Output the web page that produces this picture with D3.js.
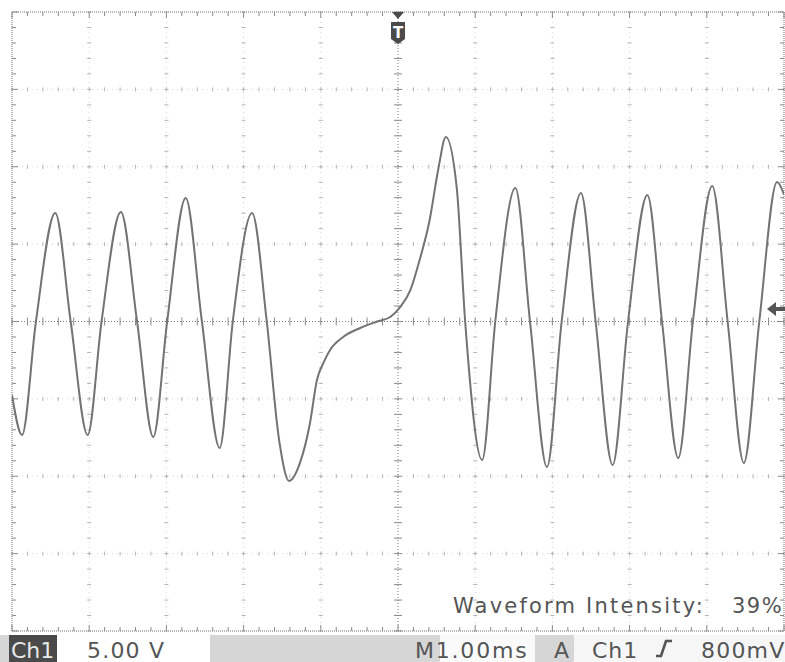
<!DOCTYPE html>
<html>
<head>
<meta charset="utf-8">
<script src="https://cdn.jsdelivr.net/npm/d3@7"></script>
<style>
  html, body { margin: 0; padding: 0; background: #fff; }
  svg { display: block; }
  text { font-family: "DejaVu Sans", "Liberation Sans", sans-serif; }
</style>
</head>
<body>
<svg id="scope"></svg>
<script>
const W = 785, H = 662;
const plot = { left: 12, right: 784, top: 12, bottom: 631 };

// 1.00 ms/div, 10 divisions, trigger at centre
const timeDomain = [-5, 5];
const timePerDiv = 1;
// 5.00 V/div, 8 divisions
const voltDomain = [-20, 20];
const voltPerDiv = 5;
const triggerLevel = 0.8; // 800mV

// trace (ms, V)
const traceTime = [-5.00, -4.87, -4.69, -4.44, -4.24, -4.02, -3.84, -3.59, -3.38, -3.17,
  -2.99, -2.75, -2.54, -2.31, -2.14, -1.89, -1.70, -1.54, -1.41, -1.27,
  -1.14, -1.05, -0.96, -0.88, -0.71, -0.49, -0.27, -0.10, 0.03, 0.16,
  0.28, 0.41, 0.52, 0.62, 0.76, 0.87, 1.09, 1.26, 1.52, 1.71,
  1.93, 2.12, 2.37, 2.56, 2.78, 2.98, 3.23, 3.42, 3.63, 3.82,
  4.07, 4.27, 4.48, 4.68, 4.91, 5.00];
const traceVolt = [-4.75, -7.33, 0, 7.01, 0, -7.33, 0, 7.07, 0, -7.46,
  0, 7.98, 0, -8.17, 0, 7.01, 0, -7.66, -10.30, -9.14,
  -6.56, -3.78, -2.61, -1.84, -1.00, -0.42, 0, 0.29, 0.94, 2.03,
  3.97, 6.56, 9.79, 11.92, 8.69, 0, -8.95, 0, 8.62, 0,
  -9.40, 0, 8.30, 0, -9.27, 0, 8.17, 0, -8.82, 0,
  8.75, 0, -9.14, 0, 9.01, 8.20];

const chLabel = "Ch1";
const scaleLabel = "5.00 V";
const timebaseLabel = "M1.00ms";
const trigModeLabel = "A";
const trigSourceLabel = "Ch1";
const trigLevelLabel = "800mV";
const intensityLabel = "Waveform Intensity:";
const intensityValue = "39%";

const svg = d3.select("#scope").attr("width", W).attr("height", H);

const x = d3.scaleLinear().domain(timeDomain).range([plot.left, plot.right]);
const y = d3.scaleLinear().domain(voltDomain).range([plot.bottom, plot.top]);

const xDivs = d3.range(0, 11).map((i) => timeDomain[0] + i * timePerDiv);
const yDivs = d3.range(0, 9).map((i) => voltDomain[0] + i * voltPerDiv);
const xMinor = d3.range(0, 51).map((i) => timeDomain[0] + i * timePerDiv / 5);
const yMinor = d3.range(0, 41).map((i) => voltDomain[0] + i * voltPerDiv / 5);

// graticule
const grid = svg.append("g").attr("id", "grid");

const innerX = xDivs.filter((d) => d !== 0 && d !== timeDomain[0] && d !== timeDomain[1]);
const innerY = yDivs.filter((d) => d !== 0 && d !== voltDomain[0] && d !== voltDomain[1]);

grid.selectAll(".vgrid").data(innerX).join("line")
  .attr("x1", (d) => x(d)).attr("x2", (d) => x(d))
  .attr("y1", plot.top).attr("y2", plot.bottom)
  .attr("stroke", "#d6d6d6").attr("stroke-dasharray", "1,4");
grid.selectAll(".hgrid").data(innerY).join("line")
  .attr("y1", (d) => y(d)).attr("y2", (d) => y(d))
  .attr("x1", plot.left).attr("x2", plot.right)
  .attr("stroke", "#d6d6d6").attr("stroke-dasharray", "1,4");

// small crosses on grid lines at every fifth of a division
innerX.forEach((t) => {
  grid.append("g").selectAll("line").data(yMinor).join("line")
    .attr("x1", x(t) - 2).attr("x2", x(t) + 2)
    .attr("y1", (d) => y(d)).attr("y2", (d) => y(d))
    .attr("stroke", "#b4b4b4");
});
innerY.forEach((v) => {
  grid.append("g").selectAll("line").data(xMinor).join("line")
    .attr("y1", y(v) - 2).attr("y2", y(v) + 2)
    .attr("x1", (d) => x(d)).attr("x2", (d) => x(d))
    .attr("stroke", "#b4b4b4");
});

// centre axes
grid.append("line")
  .attr("x1", x(0)).attr("x2", x(0)).attr("y1", plot.top).attr("y2", plot.bottom)
  .attr("stroke", "#7a7a7a").attr("stroke-dasharray", "1,2");
grid.append("line")
  .attr("y1", y(0)).attr("y2", y(0)).attr("x1", plot.left).attr("x2", plot.right)
  .attr("stroke", "#7a7a7a").attr("stroke-dasharray", "1,2");
grid.append("g").selectAll("line").data(yMinor).join("line")
  .attr("x1", x(0) - 4).attr("x2", x(0) + 4)
  .attr("y1", (d) => y(d)).attr("y2", (d) => y(d))
  .attr("stroke", "#8a8a8a");
grid.append("g").selectAll("line").data(xMinor).join("line")
  .attr("y1", y(0) - 4).attr("y2", y(0) + 4)
  .attr("x1", (d) => x(d)).attr("x2", (d) => x(d))
  .attr("stroke", "#8a8a8a");

// border rulers
const border = svg.append("g").attr("id", "border");
[plot.top, plot.bottom].forEach((yy, k) => {
  border.append("line").attr("x1", plot.left).attr("x2", plot.right)
    .attr("y1", yy).attr("y2", yy)
    .attr("stroke", "#707070").attr("stroke-dasharray", "1,1");
  const dir = k === 0 ? 1 : -1;
  border.append("g").selectAll("line").data(xMinor).join("line")
    .attr("x1", (d) => x(d)).attr("x2", (d) => x(d))
    .attr("y1", yy).attr("y2", (d) => yy + dir * (xDivs.includes(d) ? 6 : 4))
    .attr("stroke", "#8a8a8a");
});
[plot.left, plot.right].forEach((xx, k) => {
  border.append("line").attr("y1", plot.top).attr("y2", plot.bottom)
    .attr("x1", xx).attr("x2", xx)
    .attr("stroke", "#707070").attr("stroke-dasharray", "1,1");
  const dir = k === 0 ? 1 : -1;
  border.append("g").selectAll("line").data(yMinor).join("line")
    .attr("y1", (d) => y(d)).attr("y2", (d) => y(d))
    .attr("x1", xx).attr("x2", (d) => xx + dir * (yDivs.includes(d) ? 6 : 4))
    .attr("stroke", "#8a8a8a");
});

// trace
svg.append("clipPath").attr("id", "clip")
  .append("rect").attr("x", plot.left).attr("y", plot.top)
  .attr("width", plot.right - plot.left).attr("height", plot.bottom - plot.top);

const trace = traceTime.map((t, i) => ({ t, v: traceVolt[i] }));
const line = d3.line()
  .x((d) => x(d.t)).y((d) => y(d.v))
  .curve(d3.curveMonotoneX);

svg.append("path")
  .attr("clip-path", "url(#clip)")
  .attr("d", line(trace))
  .attr("fill", "none")
  .attr("stroke", "#737373")
  .attr("stroke-width", 2)
  .attr("stroke-linejoin", "round");

// trigger position marker (T)
const tx = x(0);
const marker = svg.append("g").attr("id", "trig-pos");
marker.append("path")
  .attr("d", `M${tx - 6},${plot.top} L${tx + 6},${plot.top} L${tx},${plot.top + 7} Z`)
  .attr("fill", "#4a4a4a");
marker.append("path")
  .attr("d", `M${tx - 7},${plot.top + 10} H${tx + 7} V${plot.top + 27} L${tx},${plot.top + 32} L${tx - 7},${plot.top + 27} Z`)
  .attr("fill", "#4a4a4a");
marker.append("text")
  .attr("x", tx).attr("y", plot.top + 26)
  .attr("text-anchor", "middle")
  .attr("font-size", 15).attr("font-weight", "bold")
  .attr("fill", "#fff").text("T");

// trigger level arrow
const ty = y(triggerLevel);
svg.append("path")
  .attr("d", `M${plot.right - 17},${ty} L${plot.right - 8},${ty - 7} V${ty - 2} H${W} V${ty + 2} H${plot.right - 8} V${ty + 7} Z`)
  .attr("fill", "#555");

// intensity readout
svg.append("text")
  .attr("x", 453).attr("y", 613)
  .attr("font-size", 21).attr("letter-spacing", 2.2)
  .attr("fill", "#555").text(intensityLabel);
svg.append("text")
  .attr("x", 732).attr("y", 613)
  .attr("font-size", 21).attr("letter-spacing", 1.5)
  .attr("fill", "#555").text(intensityValue);

// status bar
const bar = svg.append("g").attr("id", "status");
const barTop = 635;
bar.append("rect").attr("x", 0).attr("y", barTop).attr("width", W).attr("height", H - barTop).attr("fill", "#d6d6d6");
bar.append("rect").attr("x", 9).attr("y", barTop).attr("width", 48).attr("height", H - barTop).attr("fill", "#4a4a4a");
bar.append("rect").attr("x", 57).attr("y", barTop).attr("width", 153).attr("height", H - barTop).attr("fill", "#fff");
bar.append("rect").attr("x", 440).attr("y", barTop).attr("width", 95).attr("height", H - barTop).attr("fill", "#fafafa");
bar.append("rect").attr("x", 574).attr("y", barTop).attr("width", W - 574).attr("height", H - barTop).attr("fill", "#f6f6f6");

const statusText = (xx, str, fill, ls) =>
  bar.append("text").attr("x", xx).attr("y", 658)
    .attr("font-size", 22).attr("letter-spacing", ls)
    .attr("fill", fill).text(str);

statusText(11, chLabel, "#e8e8e8", 0);
statusText(87, scaleLabel, "#555", 1.2);
statusText(415, timebaseLabel, "#555", 1.8);
statusText(554, trigModeLabel, "#555", 0);
statusText(592, trigSourceLabel, "#555", 1);
statusText(701, trigLevelLabel, "#555", 1.2);

// rising slope symbol
bar.append("path")
  .attr("d", "M656,656 H661 L666,641 H672")
  .attr("fill", "none").attr("stroke", "#555").attr("stroke-width", 2.6);
</script>
</body>
</html>
